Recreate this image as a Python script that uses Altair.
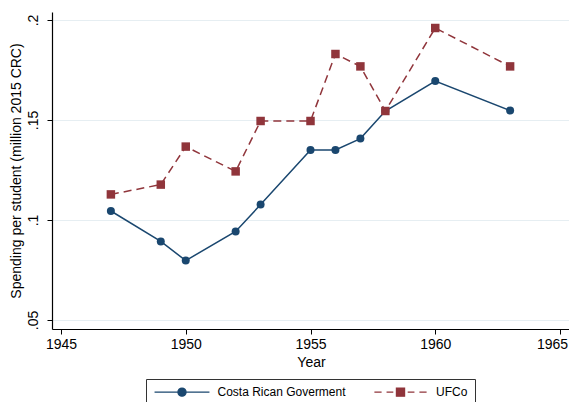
import altair as alt
import pandas as pd

years = [1947, 1949, 1950, 1952, 1953, 1955, 1956, 1957, 1958, 1960, 1963]
gov = [0.1045, 0.0893, 0.0797, 0.0943, 0.1077, 0.135, 0.135, 0.1407, 0.1545, 0.1695, 0.1547]
ufco = [0.1128, 0.1177, 0.1367, 0.1243, 0.1495, 0.1495, 0.183, 0.1768, 0.1545, 0.196, 0.1768]
series_names = ["Costa Rican Goverment", "UFCo"]
series_colors = ["#1a476f", "#90353b"]
x_ticks = [1945, 1950, 1955, 1960, 1965]
y_ticks = [0.05, 0.1, 0.15, 0.2]

df = pd.DataFrame(
    {"year": years * 2,
     "value": gov + ufco,
     "series": [series_names[0]] * len(years) + [series_names[1]] * len(years)}
)

FONT = "Liberation Sans"

x = alt.X("year:Q", scale=alt.Scale(domain=[1944.64, 1965.4], nice=False, zero=False),
          axis=alt.Axis(values=x_ticks, format="d", title="Year", grid=False,
                        labelOffset=alt.condition("datum.value == 1965", alt.value(-8), alt.value(0))))
y = alt.Y("value:Q", scale=alt.Scale(domain=[0.0455, 0.204], nice=False, zero=False),
          axis=alt.Axis(values=y_ticks, title="Spending per student (million 2015 CRC)",
                        labelExpr="substring(format(datum.value, '.2~f'), 1)",
                        labelAngle=-90, labelAlign="center", labelBaseline="bottom",
                        labelPadding=6.5, titlePadding=3.5,
                        grid=True, gridColor="#e6eef2", gridWidth=1.2))

base = alt.Chart(df)

gov_line = base.transform_filter(alt.datum.series == series_names[0]).mark_line(
    color=series_colors[0], strokeWidth=1.5).encode(x=x, y=y)
gov_pts = base.transform_filter(alt.datum.series == series_names[0]).mark_point(
    shape="circle", filled=True, size=64, opacity=1, color=series_colors[0]).encode(x=x, y=y)
uf_line = base.transform_filter(alt.datum.series == series_names[1]).mark_line(
    color=series_colors[1], strokeWidth=1.5, strokeDash=[8, 5]).encode(x=x, y=y)
uf_pts = base.transform_filter(alt.datum.series == series_names[1]).mark_point(
    shape="square", filled=True, size=72, opacity=1, color=series_colors[1]).encode(x=x, y=y)

circle_sym = "M-6.1,0H-0.9M0.9,0H6.1M-0.9,0A0.9,0.9,0,1,1,0.9,0A0.9,0.9,0,1,1,-0.9,0Z"
square_sym = "M-5.8,0H-4.2M-3.1,0H-1.6M1.6,0H3.1M4.2,0H5.8M-0.9,-0.9H0.9V0.9H-0.9Z"

legend = alt.Legend(title=None, orient="none", direction="horizontal",
                    legendX=94, legendY=367,
                    strokeColor="#333333", padding=7,
                    symbolSize=81, symbolOffset=23, symbolStrokeWidth=1.3,
                    labelOffset=29.5, labelFont=FONT, labelFontSize=12, labelColor="black",
                    columnPadding=25.5, symbolOpacity=1)

hidden = base.mark_point(filled=True, size=0).encode(
    x=x, y=y,
    color=alt.Color("series:N", scale=alt.Scale(domain=series_names, range=series_colors), legend=legend),
    stroke=alt.Stroke("series:N", scale=alt.Scale(domain=series_names, range=series_colors), legend=legend),
    shape=alt.Shape("series:N", scale=alt.Scale(domain=series_names, range=[circle_sym, square_sym]), legend=legend),
)

chart = alt.layer(hidden, gov_line, gov_pts, uf_line, uf_pts).properties(
    width=518, height=317,
    padding={"left": 1, "top": 4, "right": -1, "bottom": 0},
    background="white",
).configure_view(stroke=None).configure_axis(
    domainColor="black", tickColor="black", tickSize=5, domainWidth=1.2,
    labelFont=FONT, labelFontSize=14, labelColor="black", labelPadding=3,
    titleFont=FONT, titleFontSize=14, titleColor="black", titleFontWeight="normal",
    titlePadding=4,
)

chart.save("out.html", embed_options={"renderer": "svg", "actions": False})
